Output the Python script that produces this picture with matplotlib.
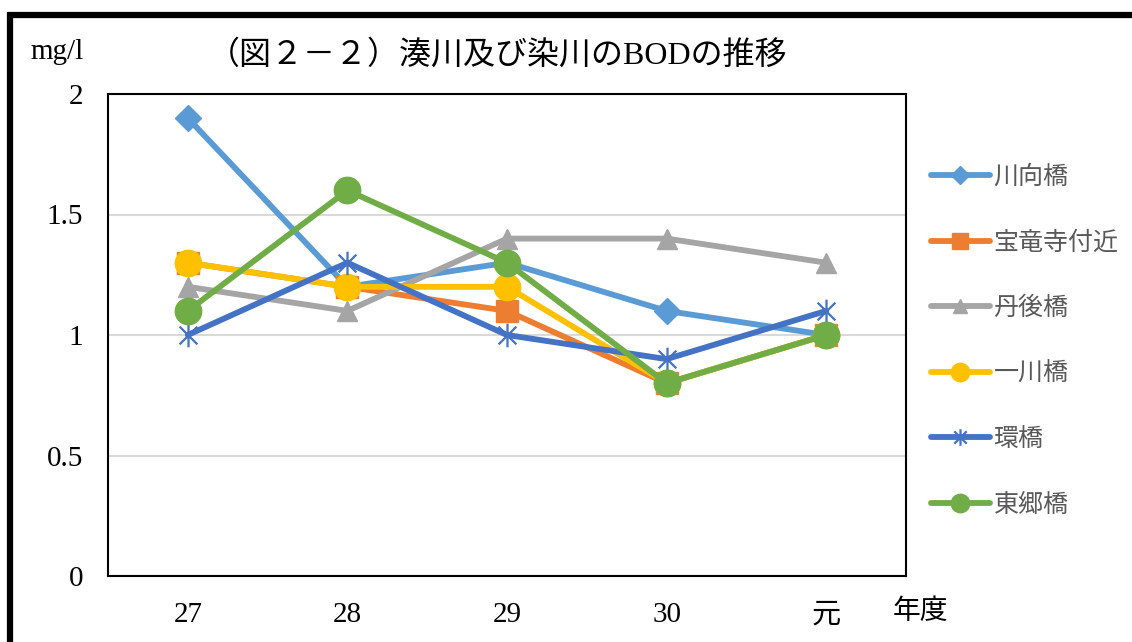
import matplotlib
matplotlib.use("Agg")
import matplotlib.pyplot as plt
from matplotlib.path import Path
from matplotlib.patches import Rectangle

categories = ["27", "28", "29", "30", "元"]
series_names = ["川向橋", "宝竜寺付近", "丹後橋", "一川橋", "環橋", "東郷橋"]
kawamukai = [1.9, 1.2, 1.3, 1.1, 1.0]
horyuji = [1.3, 1.2, 1.1, 0.8, 1.0]
tango = [1.2, 1.1, 1.4, 1.4, 1.3]
ichikawa = [1.3, 1.2, 1.2, 0.8, 1.0]
tamaki = [1.0, 1.3, 1.0, 0.9, 1.1]
togo = [1.1, 1.6, 1.3, 0.8, 1.0]
yticks = [0, 0.5, 1, 1.5, 2]
ytick_labels = ["0", "0.5", "1", "1.5", "2"]

colors = ["#5B9BD5", "#ED7D31", "#A5A5A5", "#FFC000", "#4472C4", "#70AD47"]

star = Path([(0, -1), (0, 1), (-0.75, -0.75), (0.75, 0.75), (-0.75, 0.75), (0.75, -0.75)],
            [Path.MOVETO, Path.LINETO, Path.MOVETO, Path.LINETO, Path.MOVETO, Path.LINETO])
markers = ["D", "s", "^", "o", star, "o"]
msizes = [13, 16, 15, 19, 17, 19]

SERIF = ["Liberation Serif", "Noto Sans CJK JP"]
SANS = ["Noto Sans CJK JP", "DejaVu Sans"]

fig = plt.figure(figsize=(11.32, 6.42), dpi=100)
ax = fig.add_axes([108/1132, 66/642, 798/1132, 482/642])

data = [kawamukai, horyuji, tango, ichikawa, tamaki, togo]
x = list(range(len(categories)))
for name, vals, c, m, ms in zip(series_names, data, colors, markers, msizes):
    if m is star:
        ax.plot(x, vals, color=c, lw=4.2, marker=m, ms=ms, mew=1.6,
                mec=c, mfc="none", label=name, solid_capstyle="round")
    else:
        ax.plot(x, vals, color=c, lw=4.2, marker=m, ms=ms, mec=c, mfc=c,
                label=name, solid_capstyle="round")

ax.set_xlim(-0.5, 4.5)
ax.set_ylim(0, 2)
ax.set_yticks(yticks)
ax.set_yticklabels(ytick_labels, fontfamily=SERIF, fontsize=21)
ax.set_xticks(x)
ax.set_xticklabels(categories, fontfamily=SERIF, fontsize=21)
ax.tick_params(length=0)
ax.tick_params(axis="y", pad=18)
ax.tick_params(axis="x", pad=19)
ax.grid(axis="y", color="#D9D9D9", lw=1.5)
ax.set_axisbelow(True)
for s in ax.spines.values():
    s.set_linewidth(1.5)
    s.set_color("black")

fig.text(498/1132, 1 - 55/642, "（図２－２）湊川及び染川のBODの推移", ha="center", va="center",
         fontfamily=SERIF, fontsize=23)
fig.text(30/1132, 1 - 52/642, "mg/l", ha="left", va="center", fontfamily=SERIF, fontsize=21)
fig.text(893/1132, 1 - 612/642, "年度", ha="left", va="center", fontfamily=SERIF, fontsize=20)

leg = ax.legend(loc="upper left", bbox_to_anchor=(921/1132, 1 - 154/642),
                bbox_transform=fig.transFigure, frameon=False,
                prop={"family": SANS, "size": 18}, labelspacing=1.58,
                handlelength=2.35, handletextpad=0.15, borderaxespad=0,
                markerscale=0.7)
for t in leg.get_texts():
    t.set_color("#595959")

fig.patches.append(Rectangle((10/1132, -0.1), 1.2, 1 - 14.5/642 + 0.1, transform=fig.transFigure,
                             fill=False, lw=4.5, ec="black"))

fig.savefig("out.png", dpi=100)
